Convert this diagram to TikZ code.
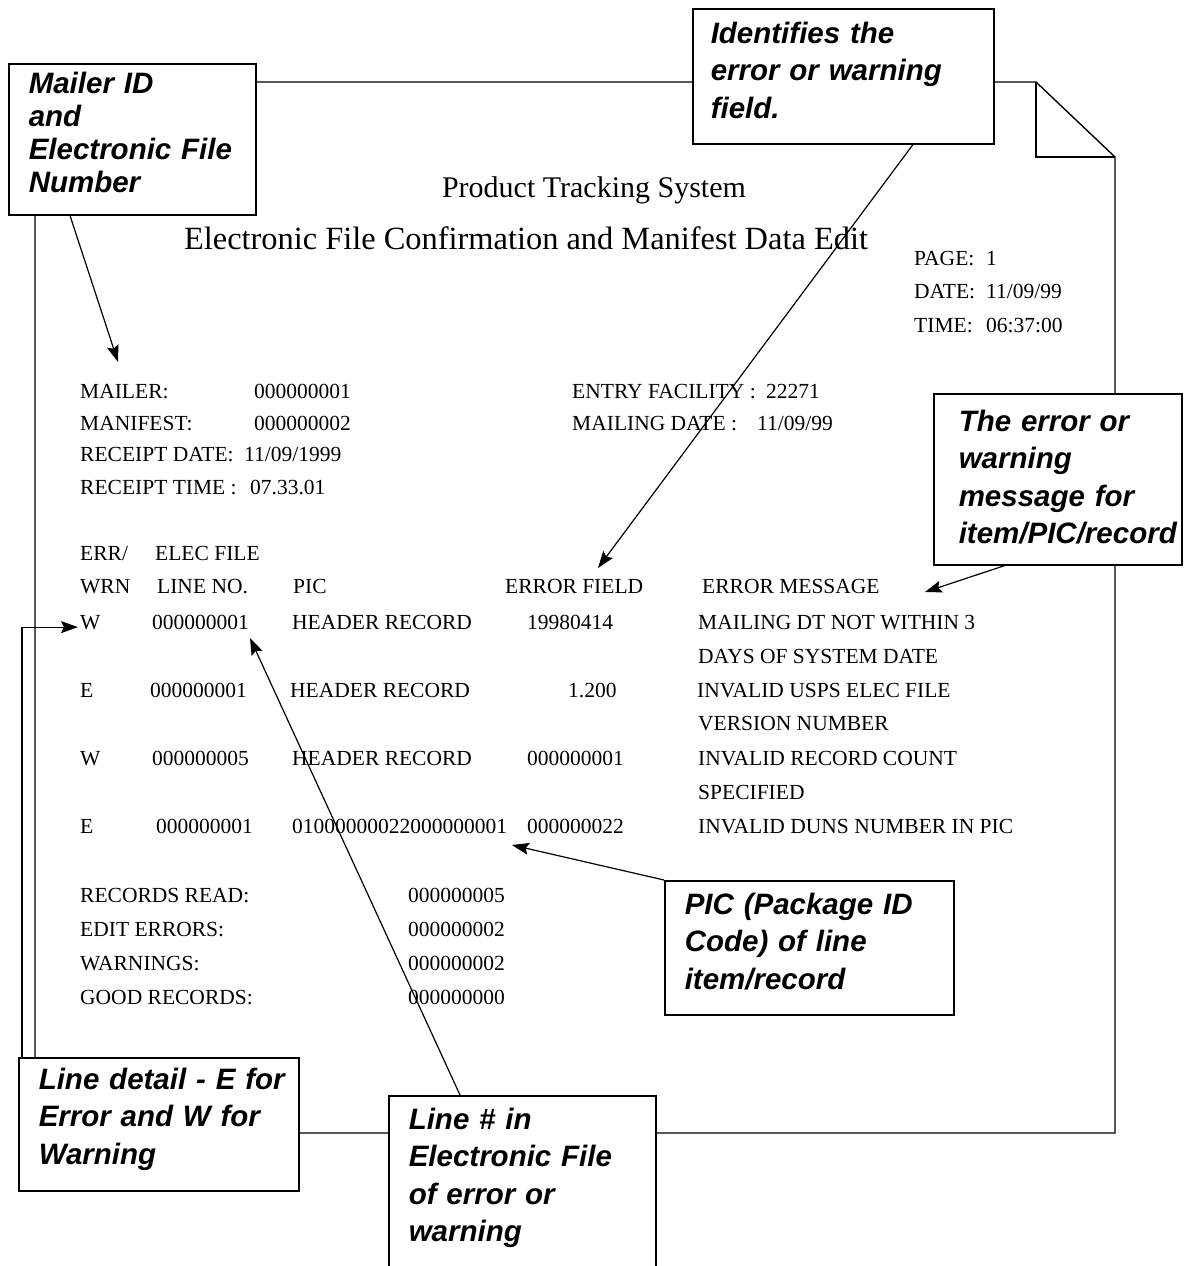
\documentclass[tikz,border=0pt]{standalone}
\usepackage{fontspec}
\setmainfont{Liberation Serif}
\newfontfamily\calloutfont{Liberation Sans}
\usetikzlibrary{positioning,arrows.meta}
\hyphenpenalty=10000
\exhyphenpenalty=10000

\begin{document}
\begin{tikzpicture}[x=1pt, y=-1pt,
				rpt/.style={anchor=base west, inner sep=0pt, font=\fontsize{21.5}{24}\selectfont},
				heading/.style={anchor=base, inner sep=0pt},
				callout/.style={rectangle, draw=black, fill=white, line width=1.5pt, anchor=north west, align=left, inner xsep=20pt, inner ysep=6pt, font=\calloutfont\bfseries\itshape\fontsize{29.5}{37.5}\selectfont},
				page/.style={line width=1.4pt},
				pointer/.style={line width=1.2pt, -{Stealth[length=17pt, width=12pt, inset=3pt]}}
			]
			\useasboundingbox (0,0) rectangle (1184,1266);
			\draw[page] (35,82) -- (1036,82) -- (1115,157) -- (1115,1133) -- (35,1133) -- cycle;
			\draw[page] (1036,82) -- (1036,157) -- (1115,157);
			\node[heading, font=\fontsize{30}{34}\selectfont] (systitle) at (594,197) {Product Tracking System};
			\node[heading, font=\fontsize{32.4}{36}\selectfont] (edittitle) at (526,249) {Electronic File Confirmation and Manifest Data Edit};
			\node[rpt] (pagelbl) at (914,265) {PAGE:};
			\node[rpt] (pageval) at (986,265) {1};
			\node[rpt] (datelbl) at (914,298) {DATE:};
			\node[rpt] (dateval) at (986,298) {11/09/99};
			\node[rpt] (timelbl) at (914,332) {TIME:};
			\node[rpt] (timeval) at (986,332) {06:37:00};
			\node[rpt] (mailerlbl) at (80,398) {MAILER:};
			\node[rpt] (mailerval) at (254,398) {000000001};
			\node[rpt] (manifestlbl) at (80,430) {MANIFEST:};
			\node[rpt] (manifestval) at (254,430) {000000002};
			\node[rpt] (rdatelbl) at (80,461) {RECEIPT DATE:};
			\node[rpt] (rdateval) at (244,461) {11/09/1999};
			\node[rpt] (rtimelbl) at (80,494) {RECEIPT TIME :};
			\node[rpt] (rtimeval) at (250,494) {07.33.01};
			\node[rpt] (entrylbl) at (572,398) {ENTRY FACILITY :};
			\node[rpt] (entryval) at (766,398) {22271};
			\node[rpt] (mdatelbl) at (572,430) {MAILING DATE :};
			\node[rpt] (mdateval) at (757,430) {11/09/99};
			\node[rpt] (errhead) at (80,560) {ERR/};
			\node[rpt] (elechead) at (155,560) {ELEC FILE};
			\node[rpt] (wrnhead) at (80,593) {WRN};
			\node[rpt] (linehead) at (157,593) {LINE NO.};
			\node[rpt] (pichead) at (293,593) {PIC};
			\node[rpt] (fieldhead) at (505,593) {ERROR FIELD};
			\node[rpt] (msghead) at (702,593) {ERROR MESSAGE};
			\node[rpt] (wone) at (80,629) {W};
			\node[rpt] (lineone) at (152,629) {000000001};
			\node[rpt] (picone) at (292,629) {HEADER RECORD};
			\node[rpt] (fieldone) at (527,629) {19980414};
			\node[rpt] (msgone) at (698,629) {MAILING DT NOT WITHIN 3};
			\node[rpt] (msgonecont) at (698,663) {DAYS OF SYSTEM DATE};
			\node[rpt] (etwo) at (80,697) {E};
			\node[rpt] (linetwo) at (150,697) {000000001};
			\node[rpt] (pictwo) at (290,697) {HEADER RECORD};
			\node[rpt] (fieldtwo) at (568,697) {1.200};
			\node[rpt] (msgtwo) at (697,697) {INVALID USPS ELEC FILE};
			\node[rpt] (msgtwocont) at (698,730) {VERSION NUMBER};
			\node[rpt] (wthree) at (80,765) {W};
			\node[rpt] (linethree) at (152,765) {000000005};
			\node[rpt] (picthree) at (292,765) {HEADER RECORD};
			\node[rpt] (fieldthree) at (527,765) {000000001};
			\node[rpt] (msgthree) at (698,765) {INVALID RECORD COUNT};
			\node[rpt] (msgthreecont) at (698,799) {SPECIFIED};
			\node[rpt] (efour) at (80,833) {E};
			\node[rpt] (linefour) at (156,833) {000000001};
			\node[rpt] (picfour) at (292,833) {01000000022000000001};
			\node[rpt] (fieldfour) at (527,833) {000000022};
			\node[rpt] (msgfour) at (698,833) {INVALID DUNS NUMBER IN PIC};
			\node[rpt] (readlbl) at (80,902) {RECORDS READ:};
			\node[rpt] (readval) at (408,902) {000000005};
			\node[rpt] (editlbl) at (80,936) {EDIT ERRORS:};
			\node[rpt] (editval) at (408,936) {000000002};
			\node[rpt] (warnlbl) at (80,970) {WARNINGS:};
			\node[rpt] (warnval) at (408,970) {000000002};
			\node[rpt] (goodlbl) at (80,1004) {GOOD RECORDS:};
			\node[rpt] (goodval) at (408,1004) {000000000};
			\node[callout, text width=207pt, minimum height=151pt, text depth=113pt, font=\calloutfont\bfseries\itshape\fontsize{29.5}{33}\selectfont] (mailerid) at (8,63) {Mailer~ID\\and\\Electronic~File\\Number};
			\node[callout, inner xsep=18pt, text width=265pt, minimum height=135pt, text depth=87pt] (identify) at (692,8) {Identifies~the\\error~or~warning\\field.};
			\node[callout, inner xsep=25pt, text width=198pt, minimum height=171pt, text depth=117pt] (errmsg) at (933,393) {The~error~or\\warning\\message~for\\item/PIC/record};
			\node[callout, text width=249pt, minimum height=134pt, text depth=88pt] (picbox) at (664,880) {PIC~(Package~ID\\Code)~of~line\\item/record};
			\node[callout, text width=240pt, minimum height=133pt, text depth=91pt] (linedetail) at (18,1057) {\mbox{Line detail - E for}\\Error~and~W~for\\Warning};
			\node[callout, text width=227pt, inner ysep=12pt, text depth=160pt] (linenum) at (388,1095) {Line~\#~in\\Electronic~File\\of~error~or\\warning};
			\coordinate (mailertip) at (118,362);
			\coordinate (fieldtip) at (598,568);
			\coordinate (msgtip) at (925,592);
			\coordinate (pictip) at (512,845);
			\coordinate (linetip) at (250,638);
			\begin{scope}[pointer]
			\draw ([xshift=62pt]mailerid.south west) -- (mailertip);
			\draw ([xshift=221pt]identify.south west) -- (fieldtip);
			\draw ([xshift=72pt]errmsg.south west) -- (msgtip);
			\draw (picbox.north west) -- (pictip);
			\draw ([xshift=72pt]linenum.north west) -- (linetip);
			\draw[shorten >=2pt] ([xshift=4pt]linedetail.north west) |- ([yshift=-5pt]wone.west);
			\end{scope}
			\end{tikzpicture}
\end{document}
